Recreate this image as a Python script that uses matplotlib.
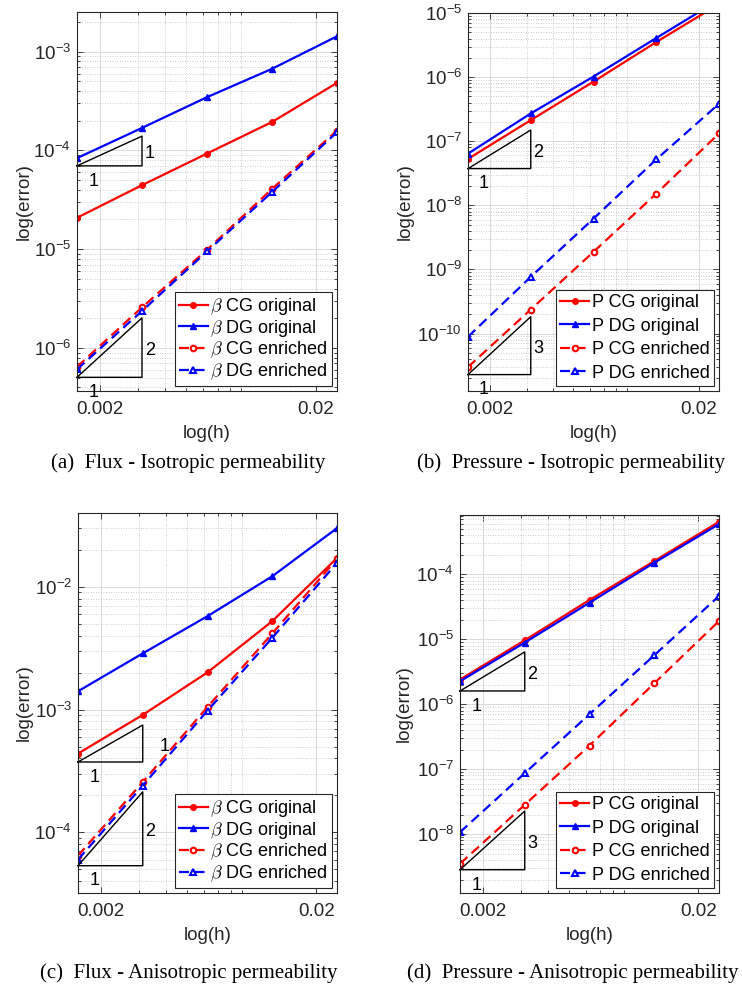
import matplotlib
matplotlib.use("Agg")
import matplotlib.pyplot as plt
from matplotlib.ticker import LogLocator, FixedLocator, FixedFormatter, NullFormatter

plt.rcParams['font.family'] = ['Liberation Sans', 'DejaVu Sans']
plt.rcParams['mathtext.fontset'] = 'cm'

# mesh sizes
h = [1/640, 1/320, 1/160, 1/80, 1/40]

# (a) flux, isotropic
flux_iso_cg = [2.08e-5, 4.45e-5, 9.3e-5, 1.94e-4, 4.83e-4]
flux_iso_dg = [8.36e-5, 1.69e-4, 3.46e-4, 6.7e-4, 1.43e-3]
flux_iso_cg_enr = [6.45e-7, 2.58e-6, 9.86e-6, 4.08e-5, 1.59e-4]
flux_iso_dg_enr = [6.08e-7, 2.37e-6, 9.5e-6, 3.79e-5, 1.53e-4]

# (b) pressure, isotropic
pres_iso_cg = [5.3e-8, 2.13e-7, 8.5e-7, 3.52e-6, 1.38e-5]
pres_iso_dg = [6.4e-8, 2.71e-7, 1.02e-6, 4.07e-6, 1.6e-5]
pres_iso_cg_enr = [3.0e-11, 2.37e-10, 1.88e-9, 1.52e-8, 1.32e-7]
pres_iso_dg_enr = [8.9e-11, 7.66e-10, 6.2e-9, 5.2e-8, 3.84e-7]

# (c) flux, anisotropic
flux_ani_cg = [4.38e-4, 9.05e-4, 2.01e-3, 5.25e-3, 0.0172]
flux_ani_dg = [1.41e-3, 2.87e-3, 5.77e-3, 0.0122, 0.0301]
flux_ani_cg_enr = [6.45e-5, 2.57e-4, 1.05e-3, 4.17e-3, 0.0169]
flux_ani_dg_enr = [5.98e-5, 2.4e-4, 9.8e-4, 3.84e-3, 0.0157]

# (d) pressure, anisotropic
pres_ani_cg = [2.4e-6, 9.66e-6, 4.03e-5, 1.6e-4, 6.45e-4]
pres_ani_dg = [2.26e-6, 8.9e-6, 3.66e-5, 1.51e-4, 5.94e-4]
pres_ani_cg_enr = [3.5e-9, 2.83e-8, 2.31e-7, 2.1e-6, 1.91e-5]
pres_ani_dg_enr = [1.07e-8, 8.68e-8, 7.02e-7, 5.67e-6, 4.64e-5]

captions = ["(a)  Flux - Isotropic permeability",
            "(b)  Pressure - Isotropic permeability",
            "(c)  Flux - Anisotropic permeability",
            "(d)  Pressure - Anisotropic permeability"]

# slope triangles: (slope, base y)
tri_a = [(1, 6.98e-5), (2, 5.05e-7)]
tri_b = [(2, 3.74e-8), (3, 2.29e-11)]
tri_c = [(1, 3.74e-4), (2, 5.34e-5)]
tri_d = [(2, 1.6e-6), (3, 2.83e-9)]

W, H = 742, 990
fig = plt.figure(figsize=(W/100, H/100), dpi=100)


def make_ax(l, r, t, b):
    return fig.add_axes([l/W, 1 - b/H, (r - l)/W, (b - t)/H])


def panel(ax, series, prefix, ylim, tris, ylab_x, vlab_dx, lspace):
    cg, dg, cge, dge = series
    lw = 1.6
    ax.plot(h, cg, '-', color='red', lw=lw, marker='o', ms=4, label=prefix + ' CG original')
    ax.plot(h, dg, '-', color='blue', lw=lw, marker='^', ms=5, label=prefix + ' DG original')
    ax.plot(h, cge, '--', color='red', lw=lw, marker='o', ms=4, mfc='white', mew=1.5,
            dashes=(4.5, 2.5), label=prefix + ' CG enriched')
    ax.plot(h, dge, '--', color='blue', lw=lw, marker='^', ms=4, mfc='white', mew=1.5,
            dashes=(4.5, 2.5), label=prefix + ' DG enriched')

    for k, (s, y0) in enumerate(tris):
        y1 = y0 * (h[1] / h[0]) ** s
        ax.plot([h[0], h[1], h[1], h[0]], [y0, y0, y1, y0], color='black', lw=1.0, clip_on=False)
        dx = vlab_dx if k == 0 else 2
        ax.annotate(str(s), (h[1], (y0 * y1) ** 0.5), xytext=(dx, -2), textcoords='offset points',
                    ha='left', va='center', fontsize=13)
        ax.annotate('1', (h[0] * 2 ** 0.25, y0), xytext=(0, -11), textcoords='offset points',
                    ha='center', va='center', fontsize=13)

    ax.set_xscale('log')
    ax.set_yscale('log')
    ax.set_xlim(h[0], h[-1])
    ax.set_ylim(*ylim)
    ax.xaxis.set_major_locator(FixedLocator([0.002, 0.02]))
    ax.xaxis.set_major_formatter(FixedFormatter(['0.002', '0.02']))
    ax.xaxis.set_minor_locator(LogLocator(base=10, subs=range(2, 10), numticks=20))
    ax.xaxis.set_minor_formatter(NullFormatter())
    ax.yaxis.set_major_locator(LogLocator(base=10, numticks=20))
    ax.yaxis.set_minor_locator(LogLocator(base=10, subs=range(2, 10), numticks=20))
    ax.yaxis.set_minor_formatter(NullFormatter())

    ax.grid(True, which='major', color='#d9d9d9', lw=0.7, ls='-')
    ax.grid(True, which='minor', color='#bdbdbd', lw=0.6, ls=(0, (1, 2)))
    ax.set_axisbelow(True)
    ax.tick_params(which='both', direction='in', top=True, right=True, colors='#262626',
                   labelcolor='#262626', labelsize=13.5, width=0.6)
    ax.tick_params(which='major', length=4)
    ax.tick_params(which='minor', length=2)
    ax.tick_params(axis='x', pad=7)
    ax.tick_params(axis='y', pad=4.3)
    for sp in ax.spines.values():
        sp.set_color('#262626')
        sp.set_linewidth(0.8)

    ax.set_xlabel('log(h)', fontsize=13.5, color='#262626')
    ax.set_ylabel('log(error)', fontsize=13.5, color='#262626')
    ax.xaxis.set_label_coords(0.5, -0.09)
    ax.yaxis.set_label_coords(ylab_x, 0.5)

    leg = ax.legend(loc='lower right', fontsize=13, handlelength=1.6, handletextpad=0.15,
                    labelspacing=lspace, borderpad=0.22, borderaxespad=0.3, fancybox=False,
                    framealpha=1, edgecolor='#262626')
    leg.get_frame().set_linewidth(0.8)


ax_a = make_ax(77, 337, 12, 391)
panel(ax_a, (flux_iso_cg, flux_iso_dg, flux_iso_cg_enr, flux_iso_dg_enr), r'$\beta$',
      (3.67e-7, 2.52e-3), tri_a, -0.17, 2, 0.05)

ax_b = make_ax(468, 719, 13, 391)
panel(ax_b, (pres_iso_cg, pres_iso_dg, pres_iso_cg_enr, pres_iso_dg_enr), 'P',
      (1.27e-11, 1e-5), tri_b, -0.215, 2, 0.36)

ax_c = make_ax(78, 337, 513, 893)
panel(ax_c, (flux_ani_cg, flux_ani_dg, flux_ani_cg_enr, flux_ani_dg_enr), r'$\beta$',
      (3.2e-5, 0.04), tri_c, -0.174, 12, 0.05)

ax_d = make_ax(460, 719, 515, 893)
panel(ax_d, (pres_ani_cg, pres_ani_dg, pres_ani_cg_enr, pres_ani_dg_enr), 'P',
      (1.24e-9, 8.2e-4), tri_d, -0.181, 2, 0.36)

cap_pos = [(188, 463), (571, 463), (189, 973), (573, 973)]
for (cx, cy), txt in zip(cap_pos, captions):
    fig.text(cx/W, 1 - cy/H, txt, ha='center', va='center', fontsize=15,
             family=['Liberation Serif', 'DejaVu Serif'])

fig.savefig('out.png', dpi=100)
